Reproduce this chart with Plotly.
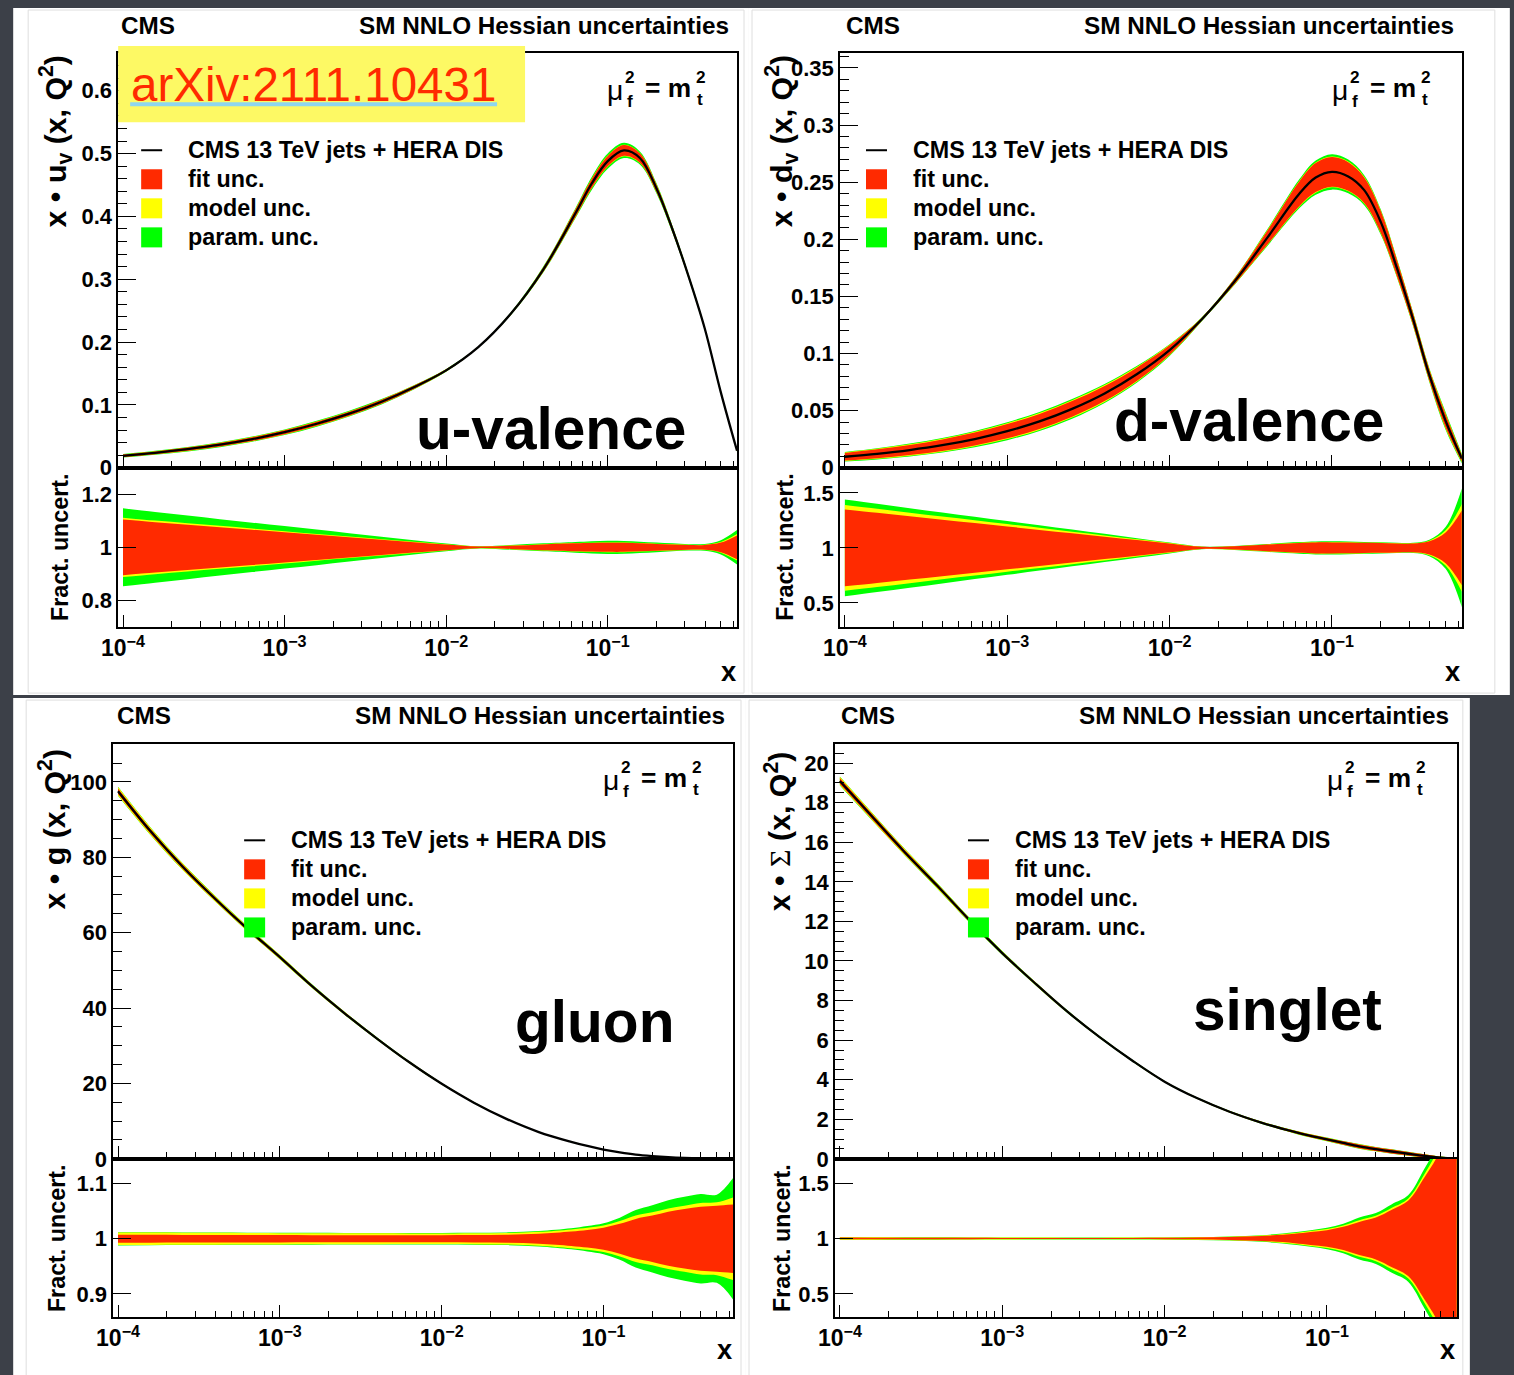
import plotly.graph_objects as go

# ---------------- data ----------------
X = [1.0e-4, 1.58e-4, 2.51e-4, 3.98e-4, 6.31e-4, 1.0e-3, 1.58e-3, 2.51e-3, 3.98e-3, 6.31e-3,
     0.01, 0.0158, 0.0251, 0.0398, 0.0631, 0.0794, 0.1, 0.126, 0.158, 0.2, 0.251, 0.316, 0.398, 0.501, 0.631]

# u-valence: central x*u_v and cumulative fractional half-widths (fit, fit+model, fit+model+param)
UV_CENTRAL = [0.019, 0.0237, 0.0295, 0.0366, 0.0455, 0.0565, 0.070, 0.086, 0.105, 0.128, 0.155, 0.192,
              0.245, 0.315, 0.405, 0.452, 0.488, 0.505, 0.493, 0.445, 0.38, 0.305, 0.222, 0.12, 0.027]
UV_FIT = [0.105, 0.095, 0.0855, 0.076, 0.0665, 0.057, 0.0475, 0.038, 0.029, 0.0195, 0.0105, 0.003, 0.006,
          0.011, 0.015, 0.016, 0.017, 0.017, 0.015, 0.013, 0.011, 0.009, 0.009, 0.018, 0.045]
UV_MOD = [0.112, 0.101, 0.091, 0.081, 0.071, 0.061, 0.0505, 0.0405, 0.031, 0.021, 0.0115, 0.0035, 0.007,
          0.012, 0.016, 0.017, 0.018, 0.018, 0.016, 0.014, 0.012, 0.010, 0.010, 0.020, 0.050]
UV_PAR = [0.147, 0.133, 0.12, 0.106, 0.093, 0.08, 0.067, 0.053, 0.04, 0.027, 0.0145, 0.004, 0.009,
          0.015, 0.02, 0.023, 0.025, 0.024, 0.021, 0.018, 0.015, 0.012, 0.013, 0.027, 0.065]

# d-valence
DV_CENTRAL = [0.0096, 0.0122, 0.0155, 0.0197, 0.0251, 0.032, 0.0405, 0.0515, 0.065, 0.082, 0.103, 0.13,
              0.163, 0.201, 0.24, 0.254, 0.259, 0.255, 0.243, 0.215, 0.175, 0.13, 0.081, 0.041, 0.008]
DV_FIT = [0.35, 0.319, 0.288, 0.257, 0.226, 0.195, 0.164, 0.133, 0.102, 0.071, 0.04, 0.01, 0.015,
          0.03, 0.045, 0.05, 0.05, 0.049, 0.046, 0.044, 0.041, 0.04, 0.06, 0.14, 0.34]
DV_MOD = [0.39, 0.356, 0.321, 0.286, 0.252, 0.217, 0.183, 0.148, 0.114, 0.079, 0.045, 0.011, 0.016,
          0.032, 0.047, 0.052, 0.052, 0.051, 0.048, 0.046, 0.043, 0.042, 0.066, 0.16, 0.40]
DV_PAR = [0.44, 0.401, 0.362, 0.323, 0.284, 0.245, 0.206, 0.167, 0.128, 0.089, 0.05, 0.013, 0.018,
          0.036, 0.053, 0.059, 0.06, 0.058, 0.054, 0.051, 0.047, 0.047, 0.075, 0.19, 0.54]

# gluon
G_CENTRAL = [97.5, 87, 77.5, 69, 61, 53.5, 45.8, 38.6, 31.9, 25.6, 19.9, 14.9,
             10.6, 7.1, 4.5, 3.4, 2.45, 1.7, 1.1, 0.70, 0.42, 0.23, 0.11, 0.04, 0.01]
G_FIT = [0.0073, 0.0071, 0.007, 0.0068, 0.0067, 0.0066, 0.0065, 0.0065, 0.0065, 0.0065, 0.0065, 0.0066,
         0.0072, 0.009, 0.013, 0.016, 0.02, 0.027, 0.036, 0.042, 0.049, 0.054, 0.058, 0.06, 0.062]
G_MOD = [0.0115, 0.0112, 0.011, 0.0107, 0.0104, 0.0102, 0.01, 0.0099, 0.0098, 0.0097, 0.0097, 0.0098,
         0.0105, 0.0125, 0.017, 0.02, 0.024, 0.032, 0.042, 0.048, 0.055, 0.06, 0.065, 0.066, 0.075]
G_PAR = [0.012, 0.0118, 0.0115, 0.0112, 0.011, 0.0108, 0.0107, 0.0106, 0.0105, 0.0105, 0.0105, 0.0107,
         0.0115, 0.014, 0.019, 0.023, 0.028, 0.038, 0.052, 0.061, 0.07, 0.076, 0.081, 0.08, 0.11]

# singlet
S_CENTRAL = [19.1, 17.3, 15.5, 13.8, 12.05, 10.4, 8.9, 7.45, 6.15, 4.97, 3.9, 3.07,
             2.38, 1.82, 1.36, 1.16, 0.98, 0.8, 0.63, 0.49, 0.37, 0.255, 0.145, 0.06, 0.012]
S_FIT = [0.008, 0.0075, 0.007, 0.0065, 0.006, 0.0055, 0.005, 0.005, 0.005, 0.0055, 0.006, 0.008,
         0.013, 0.022, 0.042, 0.058, 0.075, 0.105, 0.15, 0.19, 0.26, 0.34, 0.55, 0.8, 1.2]
S_MOD = [0.011, 0.0105, 0.01, 0.0095, 0.009, 0.0085, 0.008, 0.0075, 0.0075, 0.008, 0.0085, 0.011,
         0.016, 0.026, 0.05, 0.067, 0.085, 0.117, 0.165, 0.205, 0.278, 0.36, 0.58, 0.85, 1.25]
S_PAR = [0.012, 0.0115, 0.011, 0.0105, 0.01, 0.0095, 0.009, 0.009, 0.009, 0.0095, 0.01, 0.013,
         0.019, 0.03, 0.056, 0.075, 0.097, 0.133, 0.19, 0.23, 0.31, 0.39, 0.63, 0.9, 1.3]

# tick labels
X_TICKVALS = [1e-4, 1e-3, 1e-2, 1e-1]
X_TICKTEXT = ["10<sup>\u22124</sup>", "10<sup>\u22123</sup>", "10<sup>\u22122</sup>", "10<sup>\u22121</sup>"]
UV_YTICKS = [0, 0.1, 0.2, 0.3, 0.4, 0.5, 0.6]
UV_YTEXT = ["0", "0.1", "0.2", "0.3", "0.4", "0.5", "0.6"]
DV_YTICKS = [0, 0.05, 0.1, 0.15, 0.2, 0.25, 0.3, 0.35]
DV_YTEXT = ["0", "0.05", "0.1", "0.15", "0.2", "0.25", "0.3", "0.35"]
G_YTICKS = [0, 20, 40, 60, 80, 100]
G_YTEXT = ["0", "20", "40", "60", "80", "100"]
S_YTICKS = [0, 2, 4, 6, 8, 10, 12, 14, 16, 18, 20]
S_YTEXT = ["0", "2", "4", "6", "8", "10", "12", "14", "16", "18", "20"]
UV_RTICKS, UV_RTEXT = [0.8, 1, 1.2], ["0.8", "1", "1.2"]
DV_RTICKS, DV_RTEXT = [0.5, 1, 1.5], ["0.5", "1", "1.5"]
G_RTICKS, G_RTEXT = [0.9, 1, 1.1], ["0.9", "1", "1.1"]
S_RTICKS, S_RTEXT = [0.5, 1, 1.5], ["0.5", "1", "1.5"]

LEGEND_TEXT = ["CMS 13 TeV jets + HERA DIS", "fit unc.", "model unc.", "param. unc."]

# ---------------- styling / layout ----------------
W, H = 1514, 1375
BG = "#3c4048"
S, OX = 0.989, 17.0   # compensation for the way the page is photographed


def PX(v):
    return (v / S - OX) / W


def PY(v):
    return 1 - (v / S) / H


RED, YELLOW, GREEN = "#ff2a00", "#ffff00", "#00ff00"
FONT = "Liberation Sans"
MINOR_X = [m * 10.0 ** e for e in (-4, -3, -2) for m in range(2, 10)] + [0.2, 0.3, 0.4, 0.5, 0.6]

panels = [
    dict(cen=UV_CENTRAL, fit=UV_FIT, mod=UV_MOD, par=UV_PAR,
         x0=118, x1=737, yt=53, ym=467, yb=626, yr=[0, 0.66], ytv=UV_YTICKS, ytt=UV_YTEXT, ymin=0.02,
         rr=[0.7, 1.3], rtv=UV_RTICKS, rtt=UV_RTEXT,
         ytitle="x \u2022 u<sub>v</sub> (x, Q<sup>2</sup>)", ytx=55, yty=141, frx=60, fry=546,
         label="u-valence", lx=551, ly=428, ox=0, oy=0, legx=141, legtx=186, legy=150, xly=670),
    dict(cen=DV_CENTRAL, fit=DV_FIT, mod=DV_MOD, par=DV_PAR,
         x0=840, x1=1462, yt=53, ym=467, yb=626, yr=[0, 0.363], ytv=DV_YTICKS, ytt=DV_YTEXT, ymin=0.01,
         rr=[0.28, 1.73], rtv=DV_RTICKS, rtt=DV_RTEXT,
         ytitle="x \u2022 d<sub>v</sub> (x, Q<sup>2</sup>)", ytx=781, yty=141, frx=785, fry=546,
         label="d-valence", lx=1249, ly=420, ox=725, oy=0, legx=866, legtx=911, legy=150, xly=670),
    dict(cen=G_CENTRAL, fit=G_FIT, mod=G_MOD, par=G_PAR,
         x0=113, x1=733, yt=743, ym=1157, yb=1315, yr=[0, 110], ytv=G_YTICKS, ytt=G_YTEXT, ymin=5,
         rr=[0.858, 1.145], rtv=G_RTICKS, rtt=G_RTEXT,
         ytitle="x \u2022 g (x, Q<sup>2</sup>)", ytx=52, yty=828, frx=57, fry=1236,
         label="gluon", lx=594, ly=1020, ox=-4, oy=689, legx=244, legtx=289, legy=839, xly=1347),
    dict(cen=S_CENTRAL, fit=S_FIT, mod=S_MOD, par=S_PAR,
         x0=835, x1=1457, yt=743, ym=1157, yb=1315, yr=[0, 20.96], ytv=S_YTICKS, ytt=S_YTEXT, ymin=0.5,
         rr=[0.29, 1.72], rtv=S_RTICKS, rtt=S_RTEXT,
         ytitle="x \u2022 <span style='font-family:Liberation Serif;font-weight:normal'>\u03a3</span> (x, Q<sup>2</sup>)",
         ytx=778, yty=830, frx=782, fry=1236,
         label="singlet", lx=1288, ly=1008, ox=720, oy=689, legx=968, legtx=1013, legy=839, xly=1347),
]

fig = go.Figure()
layout = dict(width=W, height=H, margin=dict(l=0, r=0, t=0, b=0),
              paper_bgcolor=BG, plot_bgcolor="white", showlegend=False)
shapes = []
annotations = []

# white slide panels: (x0, y0, x1, y1) in reference pixels
for (a, c, b, d) in [(13, 8, 748, 694), (748, 8, 1510, 694), (13, 697, 745, 1400), (745, 697, 1470, 1400)]:
    shapes.append(dict(type="rect", xref="paper", yref="paper", x0=PX(a), x1=PX(b), y0=PY(d), y1=PY(c),
                       fillcolor="white", line=dict(width=0), layer="below"))
for (a, c, b, d) in [(28, 10, 744, 692), (752, 10, 1495, 692), (26, 699, 741, 1400), (749, 699, 1463, 1400)]:
    shapes.append(dict(type="rect", xref="paper", yref="paper", x0=PX(a), x1=PX(b), y0=PY(d), y1=PY(c),
                       fillcolor="rgba(0,0,0,0)", line=dict(width=1, color="#dedede"), layer="below"))


def ann(text, x, y, size, xanchor="center", yanchor="middle", color="black", weight="bold", angle=0, family=FONT):
    annotations.append(dict(text=text, x=PX(x), y=PY(y), xref="paper", yref="paper", showarrow=False,
                            xanchor=xanchor, yanchor=yanchor, textangle=angle,
                            font=dict(family=family, size=round(size / S, 1), color=color, weight=weight)))


axis_common = dict(showline=True, mirror=True, linecolor="black", linewidth=1.5, showgrid=False,
                   zeroline=False, ticks="inside", tickcolor="black", tickwidth=1.3)

for i, p in enumerate(panels):
    im, ir = 2 * i + 1, 2 * i + 2
    xm, ym_ = ("x" if im == 1 else f"x{im}"), ("y" if im == 1 else f"y{im}")
    xr, yr_ = f"x{ir}", f"y{ir}"
    xdom = [PX(p["x0"]), PX(p["x1"])]
    layout["xaxis" if im == 1 else f"xaxis{im}"] = dict(
        axis_common, type="log", range=[-4.03, -0.2], domain=xdom, anchor=ym_,
        tickmode="array", tickvals=X_TICKVALS, ticklen=13, showticklabels=False,
        minor=dict(ticks="inside", ticklen=7, tickmode="array", tickvals=MINOR_X, tickcolor="black", tickwidth=1))
    layout["yaxis" if im == 1 else f"yaxis{im}"] = dict(
        axis_common, range=p["yr"], domain=[PY(p["ym"]), PY(p["yt"])], anchor=xm,
        tickmode="array", tickvals=p["ytv"], ticktext=p["ytt"], ticklen=18,
        tickfont=dict(family=FONT, size=22, color="black", weight="bold"),
        minor=dict(ticks="inside", ticklen=9, dtick=p["ymin"], tick0=0, tickcolor="black", tickwidth=1))
    layout[f"xaxis{ir}"] = dict(
        axis_common, type="log", range=[-4.03, -0.2], domain=xdom, anchor=yr_,
        tickmode="array", tickvals=X_TICKVALS, ticktext=X_TICKTEXT, ticklen=12,
        tickfont=dict(family=FONT, size=23, color="black", weight="bold"),
        minor=dict(ticks="inside", ticklen=6, tickmode="array", tickvals=MINOR_X, tickcolor="black", tickwidth=1))
    layout[f"yaxis{ir}"] = dict(
        axis_common, range=p["rr"], domain=[PY(p["yb"]), PY(p["ym"])], anchor=xr,
        tickmode="array", tickvals=p["rtv"], ticktext=p["rtt"], ticklen=18,
        tickfont=dict(family=FONT, size=22, color="black", weight="bold"))

    for comp, col in ((p["par"], GREEN), (p["mod"], YELLOW), (p["fit"], RED)):
        lo_m = [c * (1 - h) for c, h in zip(p["cen"], comp)]
        hi_m = [c * (1 + h) for c, h in zip(p["cen"], comp)]
        lo_r = [1 - h for h in comp]
        hi_r = [1 + h for h in comp]
        for (lo, hi, xa, ya) in ((lo_m, hi_m, xm, ym_), (lo_r, hi_r, xr, yr_)):
            fig.add_trace(go.Scatter(x=X, y=lo, mode="lines", line=dict(width=0, shape="spline", smoothing=1.0),
                                     xaxis=xa, yaxis=ya, hoverinfo="skip", showlegend=False))
            fig.add_trace(go.Scatter(x=X, y=hi, mode="lines", line=dict(width=0, shape="spline", smoothing=1.0),
                                     fill="tonexty", fillcolor=col, xaxis=xa, yaxis=ya,
                                     hoverinfo="skip", showlegend=False))
    fig.add_trace(go.Scatter(x=X, y=p["cen"], mode="lines",
                             line=dict(color="black", width=2.3, shape="spline", smoothing=1.0),
                             xaxis=xm, yaxis=ym_, hoverinfo="skip", showlegend=False))

    ox, oy = p["ox"], p["oy"]
    ann("CMS", 148 + ox, 25 + oy, 24)
    ann("SM NNLO Hessian uncertainties", 731 + ox, 25 + oy, 24, xanchor="right")
    ann("\u03bc", 615 + ox, 90 + oy, 28, weight="normal")
    ann("2", 630 + ox, 77 + oy, 17)
    ann("f", 630 + ox, 101 + oy, 17)
    ann("= m", 643 + ox, 88 + oy, 26, xanchor="left")
    ann("2", 701 + ox, 77 + oy, 17)
    ann("t", 700 + ox, 99 + oy, 17)
    lx, ltx, ly = p["legx"], p["legtx"], p["legy"]
    shapes.append(dict(type="line", xref="paper", yref="paper", x0=PX(lx), x1=PX(lx + 21),
                       y0=PY(ly), y1=PY(ly), line=dict(color="black", width=2)))
    for k, col in enumerate((RED, YELLOW, GREEN)):
        cy = ly + 29 * (k + 1)
        shapes.append(dict(type="rect", xref="paper", yref="paper", x0=PX(lx), x1=PX(lx + 21),
                           y0=PY(cy + 10), y1=PY(cy - 10), fillcolor=col, line=dict(width=0)))
    for k, t in enumerate(LEGEND_TEXT):
        ann(t, ltx, ly + 29 * k, 23, xanchor="left")
    ann(p["ytitle"], p["ytx"], p["yty"], 30, angle=-90)
    ann("Fract. uncert.", p["frx"], p["fry"], 23, angle=-90)
    ann("x", p["x1"] - 9, p["xly"], 27)
    ann(p["label"], p["lx"], p["ly"], 58)

# arXiv box
shapes.append(dict(type="rect", xref="paper", yref="paper", x0=PX(118), x1=PX(525), y0=PY(122), y1=PY(46),
                   fillcolor="#fdf964", line=dict(width=0), layer="above"))
shapes.append(dict(type="line", xref="paper", yref="paper", x0=PX(130), x1=PX(497), y0=PY(104), y1=PY(104),
                   line=dict(color="#8ed6ef", width=4), layer="above"))
ann("arXiv:2111.10431", 313, 84, 47, color="#ff2a00", weight="normal")

layout["shapes"] = shapes
layout["annotations"] = annotations
fig.update_layout(**layout)
fig.write_html(
    "out.html",
    config={"displayModeBar": False},
    post_script=("document.documentElement.style.margin='0';document.documentElement.style.overflow='hidden';"
                 "document.body.style.margin='0';document.body.style.overflow='hidden';"
                 "document.body.style.background='%s';" % BG),
)
